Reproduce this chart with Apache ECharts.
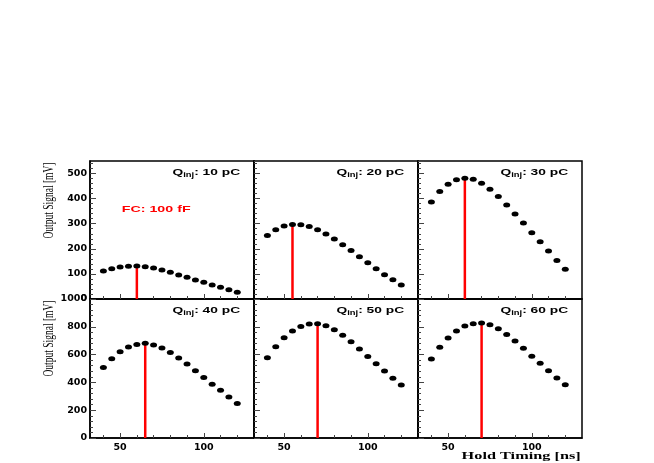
<!DOCTYPE html>
<html>
<head>
<meta charset="utf-8">
<script src="https://cdn.jsdelivr.net/npm/echarts@6/dist/echarts.min.js"></script>
<style>
  html, body { margin: 0; padding: 0; background: #fff; }
  #box { width: 654px; height: 463px; }
</style>
</head>
<body>
<div id="box"></div>
<script>
// hold timing [ns] of every measurement
const holdTiming = [40, 45, 50, 55, 60, 65, 70, 75, 80, 85, 90, 95, 100, 105, 110, 115, 120];

// output signal [mV], one array per injected charge
const signal10 = [112, 121, 128, 131, 132, 129, 124, 116, 107, 96, 87, 76, 67, 56, 47, 37, 27];
const signal20 = [253, 276, 291, 297, 296, 289, 276, 259, 239, 216, 193, 168, 144, 121, 97, 77, 56];
const signal30 = [387, 428, 457, 475, 481, 477, 461, 437, 409, 375, 339, 303, 264, 228, 191, 153, 119];
const signal40 = [508, 570, 621, 654, 673, 681, 669, 647, 616, 575, 532, 484, 436, 386, 343, 295, 249];
const signal50 = [578, 657, 721, 769, 803, 820, 822, 808, 779, 740, 693, 640, 587, 534, 482, 429, 381];
const signal60 = [568, 652, 719, 769, 805, 822, 827, 815, 786, 745, 697, 645, 589, 537, 484, 431, 383];

const charges = ['10', '20', '30', '40', '50', '60'];
const peakTiming = [60, 55, 60, 65, 70, 70];

const xMajorTicks = [50, 100];
const xMinorTicks = [40, 60, 70, 80, 90, 110, 120];
const yMaxRow = [550, 1000];
const yStepRow = [100, 200];

const signals = [signal10, signal20, signal30, signal40, signal50, signal60];

const lefts = [90, 254, 418];
const tops = [161, 299];
const heights = [138, 139];
const panelW = 164;

const tickFont = {
  fontFamily: 'DejaVu Sans',
  fontWeight: 'bold',
  fontSize: 9.5,
  color: '#000',
};

function minorValues(max, step) {
  const out = [];
  for (let v = step / 5; v < max; v += step / 5) {
    if (Math.round(v) % step !== 0) out.push(Math.round(v));
  }
  return out;
}

const dom = echarts.init(document.getElementById('box'));

const grid = [];
const xAxis = [];
const yAxis = [];
const series = [];
const graphic = [];

for (let i = 0; i < 6; i++) {
  const row = Math.floor(i / 3);
  const col = i % 3;

  grid.push({
    left: lefts[col],
    top: tops[row],
    width: panelW,
    height: heights[row],
    show: true,
    borderColor: '#000',
    borderWidth: 1.5,
  });

  // main x axis (long ticks + labels)
  xAxis.push({
    type: 'value',
    gridIndex: i,
    min: 32,
    max: 130,
    axisLine: { show: true, lineStyle: { color: '#000', width: 1.5 } },
    axisTick: { show: true, inside: true, length: 5, customValues: xMajorTicks, lineStyle: { color: '#444' } },
    axisLabel: Object.assign({ show: row === 1, margin: 5, customValues: xMajorTicks }, tickFont),
    splitLine: { show: false },
  });
  // minor x ticks
  xAxis.push({
    type: 'value',
    gridIndex: i,
    position: 'bottom',
    min: 32,
    max: 130,
    axisLine: { show: false },
    axisTick: { show: true, inside: true, length: 3, customValues: xMinorTicks, lineStyle: { color: '#444' } },
    axisLabel: { show: false },
    splitLine: { show: false },
  });

  yAxis.push({
    type: 'value',
    gridIndex: i,
    min: 0,
    max: yMaxRow[row],
    interval: yStepRow[row],
    axisLine: { show: true, lineStyle: { color: '#000', width: 1.5 } },
    axisTick: { show: true, inside: true, length: 6, lineStyle: { color: '#444' } },
    axisLabel: Object.assign({
      show: col === 0,
      margin: 3,
      showMaxLabel: row === 1,
      formatter: function (v) { return String(v); },
    }, tickFont),
    splitLine: { show: false },
  });
  yAxis.push({
    type: 'value',
    gridIndex: i,
    position: 'left',
    min: 0,
    max: yMaxRow[row],
    axisLine: { show: false },
    axisTick: { show: true, inside: true, length: 3, customValues: minorValues(yMaxRow[row], yStepRow[row]), lineStyle: { color: '#444' } },
    axisLabel: { show: false },
    splitLine: { show: false },
  });

  const vals = signals[i];
  const pk = peakTiming[i];
  const pkVal = vals[holdTiming.indexOf(pk)];

  series.push({
    type: 'line',
    xAxisIndex: 2 * i,
    yAxisIndex: 2 * i,
    data: [[pk, 0], [pk, pkVal]],
    symbol: 'none',
    lineStyle: { color: '#ff0000', width: 2.5 },
    z: 2,
    silent: true,
  });
  series.push({
    type: 'scatter',
    xAxisIndex: 2 * i,
    yAxisIndex: 2 * i,
    data: holdTiming.map((t, k) => [t, vals[k]]),
    symbol: 'circle',
    symbolSize: [7, 5],
    itemStyle: { color: '#000', opacity: 1 },
    z: 3,
  });

  graphic.push({
    type: 'text',
    x: lefts[col] + 82.5,
    y: tops[row] + 11.5,
    scaleX: 1.45,
    style: {
      text: '{q|Q}{s|inj}{q|: ' + charges[i] + ' pC}',
      textAlign: 'left',
      textVerticalAlign: 'middle',
      fill: '#000',
      rich: {
        q: { fontFamily: 'Liberation Sans', fontWeight: 'bold', fontSize: 9.5, lineHeight: 13, fill: '#000', verticalAlign: 'middle' },
        s: { fontFamily: 'Liberation Sans', fontWeight: 'bold', fontSize: 6.5, lineHeight: 7, fill: '#000', verticalAlign: 'bottom' },
      },
    },
  });
}

graphic.push({
  type: 'text',
  x: 121.7,
  y: 209,
  scaleX: 1.5,
  style: {
    text: 'FC: 100 fF',
    fill: '#ff0000',
    fontFamily: 'Liberation Sans',
    fontWeight: 'bold',
    fontSize: 9.5,
    textAlign: 'left',
    textVerticalAlign: 'middle',
  },
});

[200.5, 338.5].forEach(function (cy) {
  graphic.push({
    type: 'text',
    x: 49,
    y: cy,
    rotation: Math.PI / 2,
    scaleY: 1.6,
    style: {
      text: 'Output Signal [mV]',
      fill: '#000',
      fontFamily: 'Liberation Serif',
      fontSize: 9.5,
      textAlign: 'center',
      textVerticalAlign: 'middle',
    },
  });
});

graphic.push({
  type: 'text',
  x: 580.7,
  y: 456.7,
  scaleX: 1.55,
  style: {
    text: 'Hold Timing [ns]',
    fill: '#000',
    fontFamily: 'Liberation Serif',
    fontWeight: 'bold',
    fontSize: 10.5,
    textAlign: 'right',
    textVerticalAlign: 'middle',
  },
});

dom.setOption({
  backgroundColor: '#fff',
  animation: false,
  grid: grid,
  xAxis: xAxis,
  yAxis: yAxis,
  series: series,
  graphic: graphic,
});
</script>
</body>
</html>
